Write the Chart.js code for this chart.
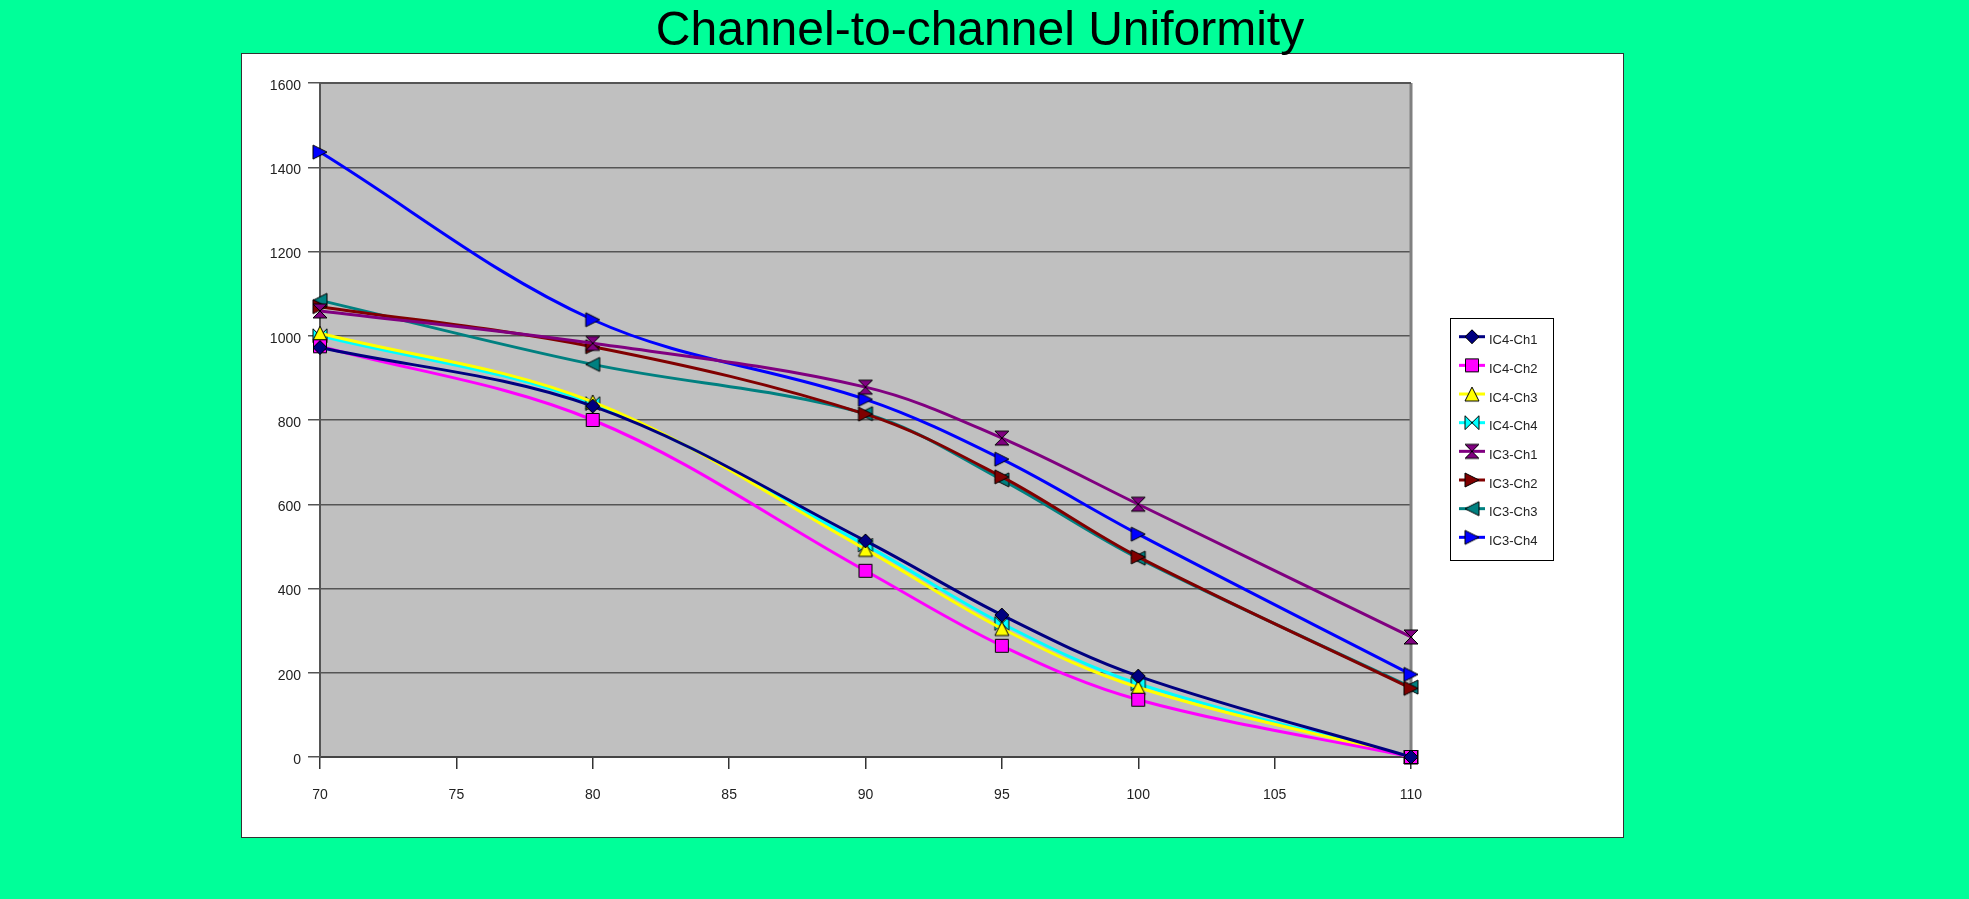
<!DOCTYPE html>
<html><head><meta charset="utf-8">
<script src="https://cdn.jsdelivr.net/npm/chart.js@4/dist/chart.umd.min.js"></script>
<style>html,body{margin:0;padding:0;background:#00FF99;overflow:hidden}canvas{display:block}</style>
</head><body>
<canvas id="c" width="1969" height="899" style="width:1969px;height:899px"></canvas>
<script>
// Temperature points and measured counts per channel
const temperatures = [70, 80, 90, 95, 100, 110];
const ic4ch1 = [972, 833, 513, 337, 192, 0];
const ic4ch2 = [975, 800, 442, 264, 136, 0];
const ic4ch3 = [1006, 843, 493, 305, 165, 0];
const ic4ch4 = [1000, 839, 503, 317, 174, 0];
const ic3ch1 = [1059, 982, 878, 757, 600, 285];
const ic3ch2 = [1069, 974, 814, 665, 475, 163];
const ic3ch3 = [1084, 932, 815, 658, 472, 166];
const ic3ch4 = [1436, 1038, 849, 707, 529, 196];

const seriesNames = ['IC4-Ch1', 'IC4-Ch2', 'IC4-Ch3', 'IC4-Ch4', 'IC3-Ch1', 'IC3-Ch2', 'IC3-Ch3', 'IC3-Ch4'];
const xTickValues = [70, 75, 80, 85, 90, 95, 100, 105, 110];
const yTickValues = [0, 200, 400, 600, 800, 1000, 1200, 1400, 1600];
const chartTitle = 'Channel-to-channel Uniformity';

const FONT = '"Liberation Sans", Arial, sans-serif';

// Marker images: filled shape with thin black outline
function marker(shape, fill, s) {
  const pad = 2;
  const c = document.createElement('canvas');
  c.width = c.height = s + pad * 2;
  const g = c.getContext('2d');
  const h = s / 2, m = s / 2 + pad;
  g.beginPath();
  switch (shape) {
    case 'diamond':
      g.moveTo(m, m - h); g.lineTo(m + h, m); g.lineTo(m, m + h); g.lineTo(m - h, m); break;
    case 'square':
      g.rect(m - h + 0.5, m - h + 0.5, s - 1, s - 1); break;
    case 'up':
      g.moveTo(m, m - h); g.lineTo(m + h, m + h); g.lineTo(m - h, m + h); break;
    case 'right':
      g.moveTo(m - h, m - h); g.lineTo(m + h, m); g.lineTo(m - h, m + h); break;
    case 'left':
      g.moveTo(m + h, m - h); g.lineTo(m - h, m); g.lineTo(m + h, m + h); break;
    case 'bowtie':
      g.moveTo(m - h, m - h); g.lineTo(m + h, m + h); g.lineTo(m + h, m - h); g.lineTo(m - h, m + h); break;
    case 'hourglass':
      g.moveTo(m - h, m - h); g.lineTo(m + h, m - h); g.lineTo(m - h, m + h); g.lineTo(m + h, m + h); break;
  }
  g.closePath();
  g.fillStyle = fill; g.fill();
  g.strokeStyle = '#000'; g.lineWidth = 1; g.stroke();
  return c;
}

const seriesValues = [ic4ch1, ic4ch2, ic4ch3, ic4ch4, ic3ch1, ic3ch2, ic3ch3, ic3ch4];
const seriesColors = ['#000080', '#FF00FF', '#FFFF00', '#00FFFF', '#800080', '#800000', '#008080', '#0000FF'];
const seriesShapes = ['diamond', 'square', 'up', 'bowtie', 'hourglass', 'right', 'left', 'right'];
const markers = seriesShapes.map((sh, i) => marker(sh, seriesColors[i], 14));

const datasets = seriesNames.map((name, i) => ({
  label: name,
  data: temperatures.map((t, j) => ({ x: t, y: seriesValues[i][j] })),
  borderColor: seriesColors[i],
  backgroundColor: seriesColors[i],
  borderWidth: 3,
  pointStyle: markers[i],
  tension: 0.35,
  fill: false,
  clip: false
}));

const frame = {
  id: 'frame',
  beforeDraw(chart) {
    const ctx = chart.ctx, a = chart.chartArea;
    ctx.save();
    ctx.fillStyle = '#00FF99';
    ctx.fillRect(0, 0, chart.width, chart.height);
    ctx.fillStyle = '#FFFFFF';
    ctx.fillRect(241, 53, 1383, 785);
    ctx.strokeStyle = '#333';
    ctx.lineWidth = 1;
    ctx.strokeRect(241.5, 53.5, 1382, 784);
    ctx.fillStyle = '#C0C0C0';
    ctx.fillRect(a.left, a.top, a.right - a.left, a.bottom - a.top);
    ctx.fillStyle = '#000';
    ctx.font = '48px ' + FONT;
    ctx.textAlign = 'center';
    ctx.textBaseline = 'alphabetic';
    ctx.fillText(chartTitle, 980, 45);
    ctx.restore();
  },
  beforeDatasetsDraw(chart) {
    const ctx = chart.ctx, a = chart.chartArea;
    ctx.save();
    ctx.strokeStyle = '#808080';
    ctx.lineWidth = 3;
    ctx.beginPath();
    ctx.moveTo(a.right, a.top); ctx.lineTo(a.right, a.bottom);
    ctx.stroke();
    ctx.strokeStyle = '#555';
    ctx.lineWidth = 2;
    ctx.beginPath();
    ctx.moveTo(a.left, a.top); ctx.lineTo(a.right, a.top);
    ctx.stroke();
    ctx.restore();
  },
  afterDraw(chart) {
    const ctx = chart.ctx;
    ctx.save();
    ctx.fillStyle = '#FFFFFF';
    ctx.fillRect(1450, 318, 104, 243);
    ctx.strokeStyle = '#000';
    ctx.lineWidth = 1;
    ctx.strokeRect(1450.5, 318.5, 103, 242);
    chart.data.datasets.forEach((ds, i) => {
      const y = 336.7 + i * 28.66;
      ctx.strokeStyle = ds.borderColor;
      ctx.lineWidth = 3;
      ctx.beginPath();
      ctx.moveTo(1459, y); ctx.lineTo(1485, y);
      ctx.stroke();
      const img = ds.pointStyle;
      ctx.drawImage(img, 1472 - img.width / 2, y - img.height / 2);
      ctx.fillStyle = '#222';
      ctx.font = '13px ' + FONT;
      ctx.textAlign = 'left';
      ctx.textBaseline = 'middle';
      ctx.fillText(ds.label, 1489, y + 4);
    });
    ctx.restore();
  }
};

new Chart(document.getElementById('c'), {
  type: 'line',
  data: { datasets },
  options: {
    responsive: false,
    animation: false,
    devicePixelRatio: 1,
    layout: { padding: { left: 240, right: 558, top: 83, bottom: 82 } },
    plugins: { legend: { display: false }, title: { display: false }, tooltip: { enabled: false } },
    scales: {
      x: {
        type: 'linear',
        min: 70, max: 110,
        afterBuildTicks(s) { s.ticks = xTickValues.map(v => ({ value: v })); },
        afterFit(s) { s.height = 60; },
        grid: { drawOnChartArea: false, drawTicks: true, tickLength: 12, tickColor: '#333', lineWidth: 1.5 },
        border: { display: true, color: '#444', width: 2 },
        ticks: { color: '#222', font: { family: FONT, size: 14 }, padding: 18, maxRotation: 0, autoSkip: false,
                 callback: v => String(v) }
      },
      y: {
        min: 0, max: 1600,
        afterBuildTicks(s) { s.ticks = yTickValues.map(v => ({ value: v })); },
        afterFit(s) { s.width = 80; },
        grid: { color: '#555', lineWidth: 1.5, drawTicks: true, tickLength: 12, tickColor: '#555' },
        border: { display: true, color: '#555', width: 2 },
        ticks: { color: '#222', font: { family: FONT, size: 14 }, padding: 7, labelOffset: 3, autoSkip: false,
                 callback: v => String(v) }
      }
    }
  },
  plugins: [frame]
});
</script>
</body></html>
